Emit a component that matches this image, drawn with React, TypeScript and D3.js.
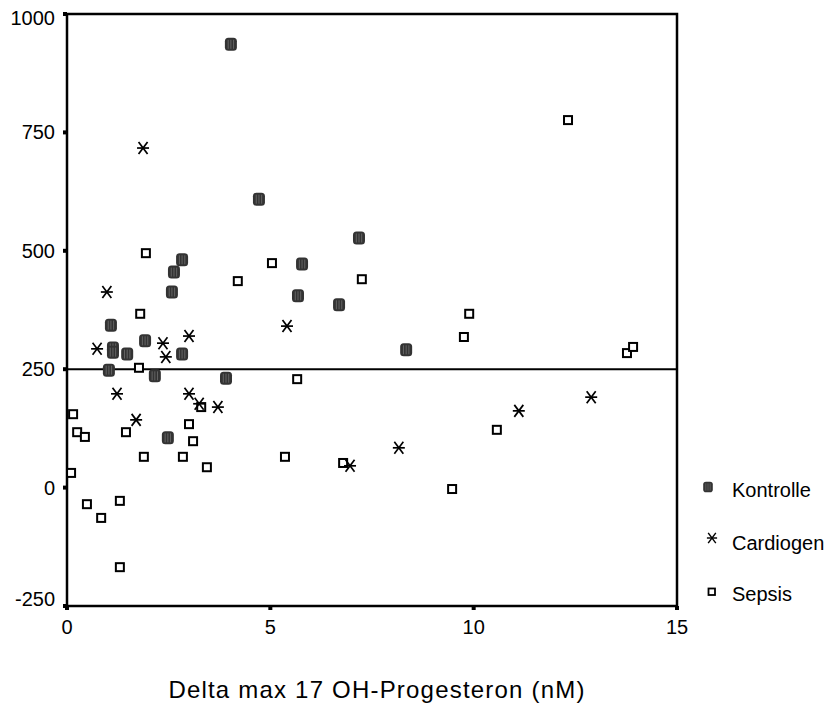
import React from "react";
import * as d3 from "d3";

const xTicks = [0, 5, 10, 15];
const yTicks = [-250, 0, 250, 500, 750, 1000];
const refLine = 250;

const kontrolleX = [4.03, 4.72, 2.83, 2.63, 2.58, 1.08, 1.92, 1.13, 1.13, 1.48, 2.83, 1.03, 2.16, 3.91, 2.48, 7.18, 5.78, 5.68, 6.69, 8.34];
const kontrolleY = [936, 609, 481, 455, 413, 343, 310, 295, 286, 282, 282, 248, 236, 231, 105, 527, 472, 405, 386, 291];

const cardiogenX = [1.87, 0.98, 0.74, 2.36, 3.0, 2.43, 1.23, 3.0, 3.25, 3.71, 1.7, 5.41, 11.11, 8.16, 6.96, 12.89];
const cardiogenY = [717, 413, 293, 305, 320, 276, 198, 198, 177, 170, 143, 341, 162, 84, 46, 191];

const sepsisX = [1.94, 5.04, 4.2, 1.8, 1.77, 5.66, 0.15, 0.25, 0.44, 1.45, 3.0, 3.3, 3.1, 1.89, 2.85, 3.44, 5.36, 0.1, 0.49, 1.3, 0.84, 1.3, 7.25, 9.89, 9.76, 10.57, 6.79, 9.47, 12.32, 13.77, 13.92];
const sepsisY = [495, 474, 436, 367, 253, 229, 155, 117, 107, 117, 134, 170, 98, 65, 65, 43, 65, 31, -35, -28, -64, -168, 440, 367, 318, 122, 52, -3, 776, 284, 297];

const legendLabels = ["Kontrolle", "Cardiogen", "Sepsis"];
const xTitle = "Delta max 17 OH-Progesteron (nM)";

const FONT = "'Liberation Sans', Arial, sans-serif";

function KMarker({ cx, cy }: { cx: number; cy: number }) {
  return (
    <g transform={`translate(${cx},${cy})`}>
      <rect x={-6} y={-6.5} width={12} height={13} rx={3.5} fill="#333" />
      <path d="M-2.7,-4.5 L-2.7,4.5 M0,-4.5 L0,4.5 M2.7,-4.5 L2.7,4.5" stroke="#6a6a6a" strokeWidth={0.9} />
    </g>
  );
}

function StarMarker({ cx, cy }: { cx: number; cy: number }) {
  return (
    <g transform={`translate(${cx},${cy})`} stroke="#000" strokeWidth={1.7}>
      <line x1={-6} y1={0} x2={6} y2={0} />
      <line x1={-4.5} y1={-6} x2={4.5} y2={6} />
      <line x1={-4.5} y1={6} x2={4.5} y2={-6} />
    </g>
  );
}

function SqMarker({ cx, cy }: { cx: number; cy: number }) {
  return <rect x={cx - 4} y={cy - 4} width={8} height={8} fill="white" stroke="#000" strokeWidth={2} />;
}

export default function App() {
  const x = d3.scaleLinear().domain([0, 15]).range([67, 677]);
  const y = d3.scaleLinear().domain([-250, 1000]).range([606, 14]);

  const labelY = (t: number) => (t === 1000 ? y(t) + 4 : t === -250 ? y(t) - 7 : y(t));

  return (
    <svg width={833} height={713} style={{ position: "absolute", left: 0, top: 0, background: "white" }} fontFamily={FONT}>
      <rect x={x(0)} y={y(1000)} width={x(15) - x(0)} height={y(-250) - y(1000)} fill="none" stroke="#000" strokeWidth={2.5} />
      <line x1={x(0)} x2={x(15)} y1={y(refLine)} y2={y(refLine)} stroke="#000" strokeWidth={2} />
      {yTicks.map((t) => (
        <g key={"y" + t}>
          <rect x={x(0) - 4} y={y(t) - 2} width={4} height={4} fill="#000" />
          <text x={55} y={labelY(t)} dy="0.35em" textAnchor="end" fontSize={20} fill="#000">{t}</text>
        </g>
      ))}
      {xTicks.map((t) => (
        <g key={"x" + t}>
          <rect x={x(t) - 2} y={y(-250)} width={4} height={4} fill="#000" />
          <text x={x(t)} y={627} dy="0.35em" textAnchor="middle" fontSize={20} fill="#000">{t}</text>
        </g>
      ))}
      {sepsisX.map((v, i) => <SqMarker key={"s" + i} cx={x(v)} cy={y(sepsisY[i])} />)}
      {cardiogenX.map((v, i) => <StarMarker key={"c" + i} cx={x(v)} cy={y(cardiogenY[i])} />)}
      {kontrolleX.map((v, i) => <KMarker key={"k" + i} cx={x(v)} cy={y(kontrolleY[i])} />)}
      <g>
        <g transform="translate(708,487) scale(0.8)"><KMarker cx={0} cy={0} /></g>
        <text x={732} y={490} dy="0.35em" fontSize={20} fill="#000">{legendLabels[0]}</text>
        <g transform="translate(712,538) scale(0.85)"><StarMarker cx={0} cy={0} /></g>
        <text x={732} y={543} dy="0.35em" fontSize={20} fill="#000">{legendLabels[1]}</text>
        <rect x={708.5} y={588.5} width={6.5} height={6.5} fill="white" stroke="#000" strokeWidth={1.8} />
        <text x={732} y={594} dy="0.35em" fontSize={20} fill="#000">{legendLabels[2]}</text>
      </g>
      <text x={377} y={690} dy="0.35em" textAnchor="middle" fontSize={24} letterSpacing={1.2} fill="#000">{xTitle}</text>
    </svg>
  );
}
